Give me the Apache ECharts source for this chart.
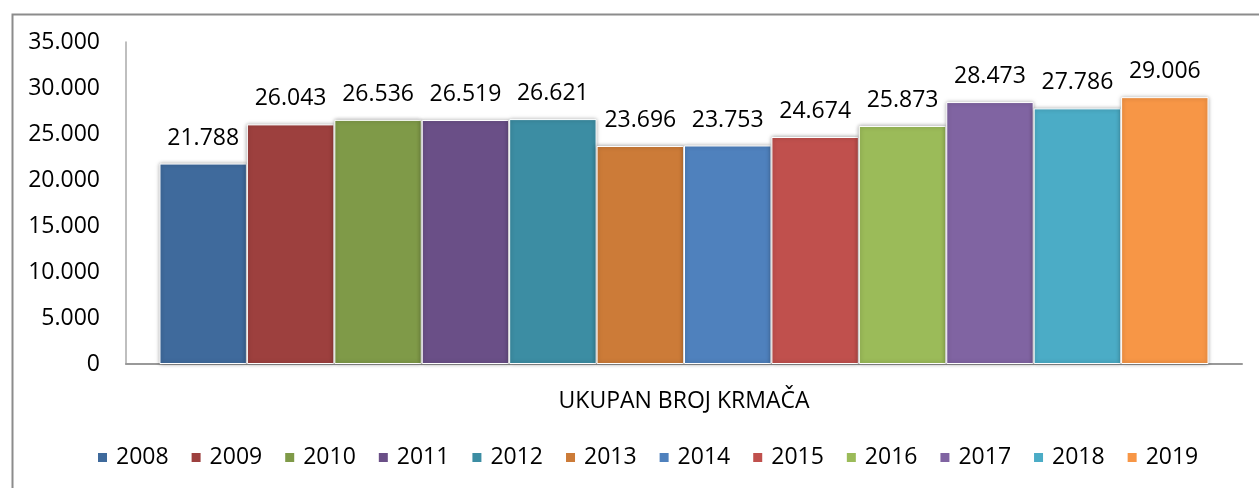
<!DOCTYPE html>
<html>
<head>
<meta charset="utf-8">
<script src="https://cdn.jsdelivr.net/npm/echarts@6/dist/echarts.min.js"></script>
<style>
html,body{margin:0;padding:0;background:#fff;}
#c{width:1259px;height:488px;}
</style>
</head>
<body>
<div id="c"></div>
<script>
const category = ['UKUPAN BROJ KRMAČA'];
const years = ['2008','2009','2010','2011','2012','2013','2014','2015','2016','2017','2018','2019'];
const values = [21788, 26043, 26536, 26519, 26621, 23696, 23753, 24674, 25873, 28473, 27786, 29006];
const colors = ['#3F6A9C','#9D403E','#7F9A48','#6A4F87','#3C8DA3','#CC7B38','#4F81BD','#C0504D','#9BBB59','#8064A2','#4BACC6','#F79646'];
const yTicks = {min: 0, max: 35000, interval: 5000};

function fmt(v){
  return String(Math.round(v)).replace(/\B(?=(\d{3})+(?!\d))/g, '.');
}

const FONT = 'Open Sans';
const chart = echarts.init(document.getElementById('c'), null, {renderer: 'canvas'});

const series = years.map((y, i) => ({
  name: y,
  type: 'bar',
  data: [values[i]],
  barGap: '0%',
  barCategoryGap: '6%',
  itemStyle: {
    color: colors[i],
    borderColor: '#ffffff',
    borderWidth: 1,
    shadowBlur: 4,
    shadowColor: 'rgba(0,0,0,0.35)',
    shadowOffsetX: 0,
    shadowOffsetY: 0
  },
  label: {
    show: true,
    position: 'top',
    distance: 14,
    formatter: p => fmt(p.value),
    fontFamily: FONT,
    fontSize: 23,
    color: '#000'
  }
}));

chart.setOption({
  animation: false,
  color: colors,
  graphic: [{
    type: 'rect',
    left: 10, top: 12,
    shape: {x: 0, y: 0, width: 1400, height: 700},
    style: {fill: 'none', stroke: '#8c8c8c', lineWidth: 2},
    silent: true,
    z: -1
  }],
  grid: {left: 126, right: 17, top: 42, bottom: 124, containLabel: false},
  legend: {
    bottom: 14,
    left: 91,
    icon: 'rect',
    itemWidth: 11,
    itemHeight: 11,
    itemGap: 21,
    textStyle: {fontFamily: FONT, fontSize: 23, color: '#000', padding: [0, 0, 0, 3]},
    data: years
  },
  xAxis: {
    type: 'category',
    data: category,
    axisLine: {show: true, lineStyle: {color: '#999', width: 2}},
    axisTick: {show: false},
    axisLabel: {fontFamily: FONT, fontSize: 23, color: '#000', margin: 26}
  },
  yAxis: {
    type: 'value',
    min: yTicks.min, max: yTicks.max, interval: yTicks.interval,
    axisLine: {show: true, lineStyle: {color: '#aaa', width: 1.5}},
    axisTick: {show: false},
    splitLine: {show: false},
    axisLabel: {fontFamily: FONT, fontSize: 23, color: '#000', margin: 26, formatter: fmt}
  },
  series: series
});
</script>
</body>
</html>
